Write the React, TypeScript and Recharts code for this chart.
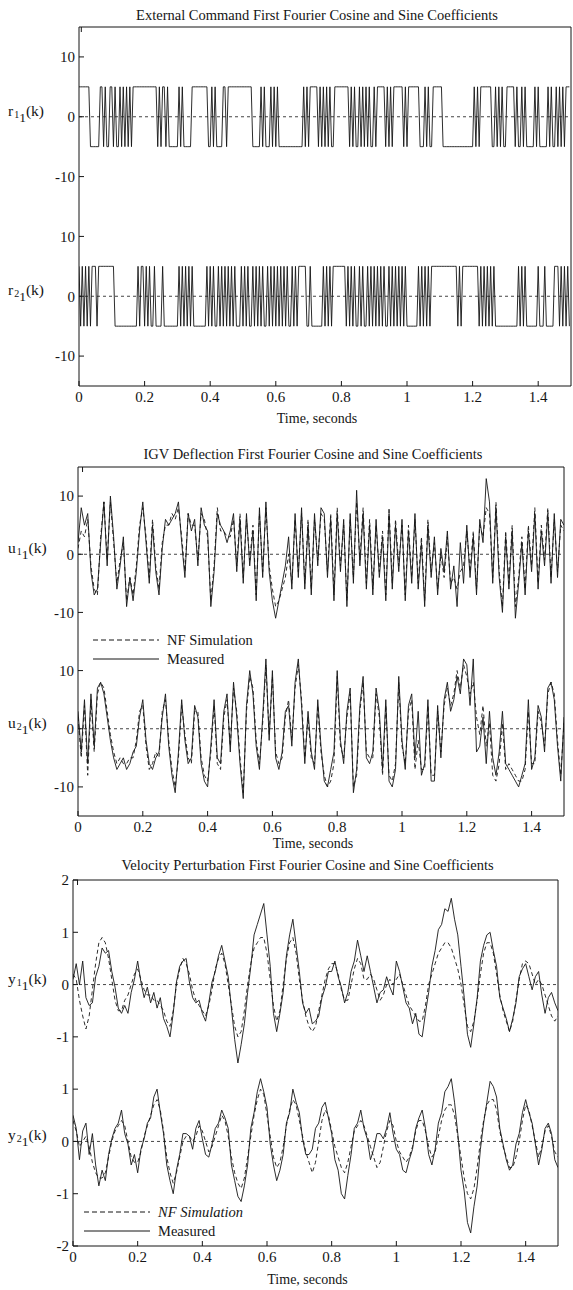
import { LineChart, Line, XAxis, YAxis, ReferenceLine } from 'recharts';

const FONT = "'Liberation Serif', 'Times New Roman', serif";
const INK = '#151515';

const X_TICKS = [0, 0.2, 0.4, 0.6, 0.8, 1, 1.2, 1.4];
const UV_TICKS = [-10, 0, 10, 20, 30, 40];
const Y_TICKS = [-2, -1, 0, 1, 2, 3, 4, 5];

// external command, one char per 0.005 s sample, 10 samples per chunk
const R11 = [
  '+++++++---', '---++-+--+', '+-+--+-+-+', '-+-+++++++', '++++++++-+',
  '-++-+-----', '-+-+-----+', '+++++++++-', '-+-+----++', '-+++++++++',
  '++++++----', '-+-+---+-+', '-+--------', '-------+-+', '-+++++-+-+',
  '-+-+--++++', '+++++-+-+-', '-+-+-+-+--', '+-+++++-+-', '+-++++++-+',
  '-+++++++--', '-+-+--++++', '++--------', '----------', '-+-+-+++++',
  '++--+-+-+-', '-+++++-+--', '+-+-----+-', '+-----+-+-', '-+-+-+-+++',
];
const R21 = [
  '+-+-+-+-++', '+-++++++++', '++--------', '------+-++', '-+-+--+---',
  '-+--------', '-+-+-+-+-+', '--------+-', '+-+--+-+-+', '-+-+-+---+',
  '-+-+--+-+-', '+-+--+-+-+', '-+-+-+-+--', '+-+-+++++-', '-+-------+',
  '-+-+-+++++', '+++-+-+-+-', '-+-+--+-+-', '+-+-+-+--+', '-+-+-+-+-+',
  '-------+-+', '-+-+-+++++', '++++++++++', '+-+-++++++', '++++-+-+-+',
  '-+-+------', '--------+-', '+-+-------', '+---+-----', '+++-+-+-+-',
];

// IGV deflection, one value per 0.01 s
const U11_MEAS = [
  2, 8, 5, 7, -3, -7, -6, 2, 9, -2,
  10, 3, -6, -2, 3, -9, -4, -8, -3, 4,
  9, 2, -5, 5, -3, -7, 1, 6, 5, 6,
  7, 9, 2, -4, 7, 4, 6, -2, 8, 5,
  4, -9, -3, 7, 5, 4, 2, 4, 7, -3,
  6, -5, 7, -2, 4, -8, 8, -4, 9, -3,
  -8, -11, -8, -5, -2, 3, -6, 7, -4, 8,
  -6, 5, -7, 7, -2, 8, 7, -4, 6, -8,
  7, -3, 6, -9, 7, -5, 11, -2, 7, -6,
  5, -7, 6, -4, 3, -8, 7, -6, 5, -3,
  6, -8, 4, -5, 7, -6, 2, -9, 5, -4,
  3, -7, 1, -3, 4, -6, -2, -9, 2, -5,
  5, -4, 3, -7, 6, 2, 13, 9, -5, 8,
  -4, -10, 3, -6, 4, -11, -5, 2, -7, 4,
  -3, 7, -6, 4, -2, 7, -5, 7, -4, 6,
  5,
];
const U11_SIM = [
  1, 4, 3, 6, -2, -6, -7, 3, 9, -1,
  9, 2, -5, -1, 2, -8, -4, -7, -2, 5,
  8, 3, -4, 6, -2, -6, 2, 5, 5, 7,
  6, 8, 3, -3, 7, 5, 5, -1, 7, 6,
  3, -8, -2, 8, 4, 4, 3, 3, 6, -2,
  7, -4, 6, -1, 5, -7, 7, -3, 8, -2,
  -6, -9, -8, -6, -4, 0, -5, 6, -3, 7,
  -5, 6, -6, 6, -1, 7, 6, -3, 7, -7,
  8, -2, 5, -8, 6, -4, 9, -1, 8, -5,
  6, -6, 5, -3, 4, -7, 8, -5, 6, -2,
  5, -7, 5, -4, 6, -5, 3, -8, 6, -3,
  2, -6, 0, -4, 3, -5, -4, -6, -3, -2,
  4, -3, 4, -6, 5, 3, 8, 7, -4, 9,
  -3, -9, 4, -5, 5, -9, -4, 3, -6, 5,
  -2, 8, -5, 5, -1, 8, -4, 6, -3, 5,
  4,
];
const U21_MEAS = [
  3, -4, 5, -6, 6, -3, 7, 8, 6, 2,
  -2, -5, -7, -6, -5, -7, -6, -4, -3, 2,
  5, -2, -6, -7, -5, -4, 2, 6, -3, -8,
  -11, -4, 5, -2, -6, -5, 4, 2, -6, -9,
  -10, -3, 5, -5, -6, 3, 6, -4, 8, 2,
  -6, -12, 4, 10, 6, -3, -7, 2, 12, -2,
  10, -5, -7, -4, 3, 4, -3, 8, 12, 4,
  -6, 3, -4, -7, 5, -3, -9, -10, -7, -4,
  10, -2, -6, 3, 7, -11, -7, 4, 9, -5,
  -6, -4, 7, 3, -7, 5, -9, -10, -7, 9,
  -2, -7, 4, 6, -5, 3, -8, -6, 5, -9,
  -9, 4, -5, 5, 8, 3, 5, 9, 6, 12,
  11, 4, 12, -4, -3, 2, -6, 3, -5, -8,
  -4, 3, -6, -7, -8, -9, -10, -8, -6, 5,
  -7, -5, 4, 2, -4, 7, 8, 5, -3, -9,
  2,
];
const U21_SIM = [
  2, -5, 4, -8, 5, -4, 6, 8, 7, 3,
  -1, -4, -6, -5, -6, -6, -5, -5, -2, 3,
  4, -3, -7, -6, -4, -5, 3, 5, -2, -7,
  -10, -5, 4, -1, -5, -6, 3, 3, -5, -8,
  -9, -4, 4, -6, -7, 2, 5, -3, 7, 3,
  -5, -11, 3, 9, 7, -2, -6, 1, 11, -1,
  9, -4, -6, -5, 2, 5, -2, 7, 11, 5,
  -5, 2, -5, -6, 4, -4, -8, -10, -9, -6,
  9, -3, -5, 2, 6, -10, -8, 3, 8, -4,
  -5, -5, 6, 2, -8, 4, -8, -9, -6, 8,
  -3, -6, 3, 5, -7, -2, -7, -7, 4, -8,
  -8, 3, -4, 4, 7, 4, 6, 10, 7, 11,
  9, 6, 8, 2, -1, 4, -3, 1, -8, -9,
  -6, 1, -7, -6, -7, -8, -9, -9, -7, 3,
  -6, -6, 3, 1, -3, 6, 8, 6, -2, -8,
  1,
];

// velocity perturbation, one value per 0.01 s
const Y11_MEAS = [
  0.1, 0.4, 0.0, 0.45, -0.25, -0.4, -0.35, 0.15, 0.35, 0.7,
  0.6, 0.65, 0.25, -0.05, -0.45, -0.55, -0.4, -0.55, -0.15, 0.1,
  0.45, 0.05, -0.25, -0.05, -0.35, -0.15, -0.45, -0.25, -0.65, -0.8,
  -1.0, -0.55, 0.05, 0.35, 0.45, 0.5, 0.05, -0.25, -0.35, -0.3,
  -0.55, -0.7, -0.35, 0.05, 0.25, 0.55, 0.75, 0.45, 0.15, -0.45,
  -1.05, -1.5, -1.15, -0.75, -0.15, 0.35, 0.95, 1.15, 1.35, 1.55,
  0.95, 0.35, -0.55, -0.9, -0.55, -0.15, 0.55, 0.95, 1.25, 0.75,
  0.25, -0.35, -0.55, -0.45, -0.75, -0.7, -0.6, -0.25, -0.05, 0.25,
  0.25, 0.45, 0.15, -0.05, -0.35, -0.15, 0.25, 0.45, 0.85, 0.55,
  0.25, 0.55, 0.25, -0.05, -0.35, -0.15, -0.1, 0.15, -0.05, -0.2,
  0.45, 0.25, -0.05, -0.35, -0.45, -0.75, -0.55, -0.95, -1.0, -0.55,
  -0.15, 0.35, 0.65, 1.05, 1.15, 1.45, 1.4, 1.65, 1.25, 0.95,
  0.35, -0.25, -0.95, -1.2, -0.75, -0.25, 0.45, 0.75, 0.95, 1.0,
  0.65, 0.35, -0.25, -0.45, -0.65, -0.9, -0.65, -0.35, 0.15, 0.3,
  0.4, 0.15, -0.1, 0.15, 0.25, -0.2, -0.55, -0.25, -0.15, -0.35,
  -0.5,
];
const Y11_SIM = [
  0.2, 0.1, -0.3, -0.6, -0.85, -0.6, -0.1, 0.4, 0.8, 0.9,
  0.8, 0.5, 0.1, -0.3, -0.5, -0.5, -0.3, -0.2, 0.0, 0.2,
  0.3, 0.1, -0.1, -0.2, -0.2, -0.3, -0.3, -0.4, -0.5, -0.7,
  -0.8, -0.5, 0.0, 0.3, 0.5, 0.4, 0.2, -0.1, -0.3, -0.4,
  -0.5, -0.6, -0.4, -0.1, 0.3, 0.5, 0.6, 0.4, 0.0, -0.4,
  -0.8, -1.0, -0.9, -0.5, 0.0, 0.4, 0.7, 0.8, 0.9, 0.9,
  0.6, 0.1, -0.4, -0.7, -0.5, 0.0, 0.5, 0.8, 0.9, 0.6,
  0.1, -0.3, -0.6, -0.8, -0.9, -0.8, -0.5, -0.2, 0.1, 0.3,
  0.4, 0.4, 0.2, -0.1, -0.3, -0.3, 0.0, 0.3, 0.5, 0.4,
  0.1, 0.1, 0.2, 0.1, -0.1, -0.3, -0.2, 0.0, 0.1, 0.0,
  0.1, 0.2, 0.0, -0.2, -0.4, -0.5, -0.6, -0.7, -0.7, -0.4,
  0.0, 0.2, 0.4, 0.6, 0.7, 0.8, 0.8, 0.7, 0.5, 0.3,
  0.0, -0.4, -0.8, -0.9, -0.7, -0.3, 0.2, 0.6, 0.8, 0.8,
  0.6, 0.2, -0.2, -0.5, -0.7, -0.9, -0.7, -0.3, 0.1, 0.4,
  0.45, 0.4, 0.2, 0.0, 0.1, 0.0, -0.2, -0.4, -0.6, -0.7,
  -0.6,
];
const Y21_MEAS = [
  0.5, 0.25, -0.35, 0.2, 0.35, -0.25, 0.15, -0.45, -0.85, -0.55,
  -0.75, -0.25, 0.05, 0.25, 0.35, 0.6, 0.15, -0.05, -0.45, -0.25,
  -0.6, -0.15, 0.05, 0.35, 0.45, 0.85, 1.0, 0.55, 0.15, -0.45,
  -0.75, -1.0, -0.55, -0.25, 0.15, 0.15, 0.1, -0.15, 0.25, 0.4,
  0.05, -0.25, -0.3, -0.05, 0.25, 0.35, 0.6, 0.45, 0.25, -0.45,
  -0.75, -1.05, -1.15, -0.85, -0.45, 0.25, 0.55, 0.95, 1.2, 0.95,
  0.65, -0.05, -0.45, -0.75, -0.55, -0.25, 0.35, 0.55, 1.0, 0.75,
  0.55, 0.05, -0.25, -0.25, -0.15, 0.25, 0.35, 0.65, 0.75, 0.45,
  0.15, -0.35, -0.55, -1.0, -1.1, -0.65, -0.25, 0.25, 0.35, 0.6,
  0.25, 0.05, -0.35, -0.15, 0.15, 0.15, 0.05, 0.25, 0.55, 0.15,
  -0.15, -0.25, -0.55, -0.6, -0.35, -0.15, 0.25, 0.45, 0.6, 0.25,
  -0.25, -0.45, -0.15, 0.35, 0.55, 0.95, 1.05, 1.2, 0.75, 0.15,
  -0.55, -0.95, -1.55, -1.75, -1.25, -0.85, -0.15, 0.35, 0.75, 1.15,
  1.05, 0.85, 0.25, -0.05, -0.35, -0.55, -0.45, -0.05, 0.15, 0.55,
  0.8, 0.55, 0.35, -0.05, -0.45, -0.15, 0.25, 0.35, 0.15, -0.35,
  -0.5,
];
const Y21_SIM = [
  0.4, 0.2, -0.1, 0.0, 0.1, -0.1, -0.4, -0.6, -0.7, -0.7,
  -0.6, -0.3, 0.0, 0.2, 0.3, 0.4, 0.3, 0.0, -0.3, -0.4,
  -0.4, -0.2, 0.1, 0.3, 0.5, 0.7, 0.8, 0.6, 0.2, -0.3,
  -0.6, -0.8, -0.6, -0.3, 0.0, 0.1, 0.1, 0.0, 0.1, 0.3,
  0.2, 0.0, -0.2, -0.1, 0.1, 0.3, 0.5, 0.4, 0.1, -0.3,
  -0.6, -0.8, -0.9, -0.7, -0.3, 0.1, 0.5, 0.8, 1.0, 0.9,
  0.5, 0.1, -0.3, -0.5, -0.4, -0.1, 0.3, 0.6, 0.8, 0.7,
  0.4, 0.1, -0.2, -0.4, -0.6, -0.4, 0.0, 0.4, 0.6, 0.5,
  0.2, -0.1, -0.3, -0.5, -0.6, -0.4, -0.1, 0.2, 0.3, 0.4,
  0.3, 0.1, -0.1, -0.3, -0.5, -0.4, -0.1, 0.2, 0.4, 0.3,
  0.0, -0.2, -0.3, -0.4, -0.3, -0.1, 0.2, 0.4, 0.4, 0.2,
  -0.1, -0.3, -0.2, 0.1, 0.4, 0.6, 0.7, 0.7, 0.5, 0.1,
  -0.3, -0.7, -1.0, -1.1, -0.9, -0.5, 0.0, 0.4, 0.7, 0.8,
  0.8, 0.6, 0.2, -0.1, -0.3, -0.5, -0.5, -0.3, 0.0, 0.4,
  0.7, 0.6, 0.3, 0.0, -0.3, -0.1, 0.2, 0.3, 0.1, -0.2,
  -0.3,
];

const levels = (chunks: string[]) =>
  chunks.join('').split('').map((c) => (c === '+' ? 5 : -5));

const r11 = levels(R11);
const r21 = levels(R21);
const commandRows = r11.map((v, i) => ({ t: i * 0.005, a: v + 30, b: r21[i] }));

const igvRows = U11_MEAS.map((v, i) => ({
  t: i * 0.01,
  a: v + 30,
  as: U11_SIM[i] + 30,
  b: U21_MEAS[i],
  bs: U21_SIM[i],
}));

const velRows = Y11_MEAS.map((v, i) => ({
  t: i * 0.01,
  a: v + 3,
  as: Y11_SIM[i] + 3,
  b: Y21_MEAS[i],
  bs: Y21_SIM[i],
}));

const fmtX = (v: number) => String(+v.toFixed(1));
const tickStyle = { fill: INK, fontSize: 15, fontFamily: FONT };

type Series = { key: string; dashed?: boolean };

interface PanelProps {
  title: string;
  titleY: number;
  timeY: number;
  plotLeft: number;
  plotRight: number;
  plotTop: number;
  plotBottom: number;
  data: Record<string, number>[];
  series: Series[];
  yDomain: [number, number];
  yTicks: number[];
  offset: number;
  letter: string;
  legend?: { x: number; y: number; italic?: boolean };
}

function AxisName({ letter, idx, x, y }: { letter: string; idx: string; x: number; y: number }) {
  return (
    <div
      style={{
        position: 'absolute',
        left: x,
        top: y - 15,
        fontFamily: FONT,
        fontSize: 15.5,
        lineHeight: '18px',
        color: INK,
        whiteSpace: 'nowrap',
      }}
    >
      {letter}
      <span style={{ fontSize: 10, position: 'relative', top: 2, marginLeft: 1 }}>{idx}</span>
      <span style={{ fontSize: 13.5, position: 'relative', top: 6 }}>1</span>
      (k)
    </div>
  );
}

function Legend({ x, y, italic }: { x: number; y: number; italic?: boolean }) {
  const rows = [
    { label: 'NF Simulation', dashed: true },
    { label: 'Measured', dashed: false },
  ];
  return (
    <>
      {rows.map((r, i) => (
        <div
          key={r.label}
          style={{
            position: 'absolute',
            left: x,
            top: y + i * 19 - 9,
            height: 18,
            display: 'flex',
            alignItems: 'center',
            fontFamily: FONT,
            fontSize: 14.5,
            fontStyle: italic && i === 0 ? 'italic' : 'normal',
            color: INK,
            whiteSpace: 'nowrap',
          }}
        >
          <svg width={66} height={18} style={{ marginRight: 8 }}>
            <line
              x1={0}
              x2={66}
              y1={9}
              y2={9}
              stroke={INK}
              strokeWidth={1}
              strokeDasharray={r.dashed ? '5 3' : undefined}
            />
          </svg>
          {r.label}
        </div>
      ))}
    </>
  );
}

function Panel(p: PanelProps) {
  const boxTop = p.plotTop - 20;
  const chartH = p.plotBottom - boxTop + 30;
  const [lo, hi] = p.yDomain;
  const yPix = (v: number) => p.plotTop + ((hi - v) / (hi - lo)) * (p.plotBottom - p.plotTop);
  const fmtY = (v: number) => String(v > p.offset / 2 ? v - p.offset : v);
  const mid = (p.plotLeft + p.plotRight) / 2 - 8;

  return (
    <>
      <div
        style={{
          position: 'absolute',
          left: 0,
          width: 573,
          top: p.titleY - 9,
          textAlign: 'center',
          fontFamily: FONT,
          fontSize: 14.5,
          lineHeight: '18px',
          color: INK,
          whiteSpace: 'nowrap',
        }}
      >
        <span style={{ position: 'relative', left: mid - 286.5 }}>{p.title}</span>
      </div>

      <div style={{ position: 'absolute', left: 0, top: boxTop, width: 573, height: chartH }}>
        <LineChart
          width={573}
          height={chartH}
          data={p.data}
          margin={{ top: 19, right: 573 - p.plotRight - 1, bottom: 0, left: 0 }}
        >
          <XAxis
            dataKey="t"
            type="number"
            domain={[0, 1.5]}
            ticks={X_TICKS}
            height={30}
            tickSize={-5}
            tickMargin={10}
            tickFormatter={fmtX}
            tick={tickStyle}
            stroke={INK}
            allowDataOverflow
          />
          <XAxis
            xAxisId="top"
            orientation="top"
            type="number"
            domain={[0, 1.5]}
            ticks={X_TICKS}
            height={1}
            tickSize={-5}
            tickFormatter={() => ''}
            stroke={INK}
          />
          <YAxis
            type="number"
            domain={p.yDomain}
            ticks={p.yTicks}
            width={p.plotLeft}
            tickSize={-5}
            tickMargin={9}
            tickFormatter={fmtY}
            tick={tickStyle}
            stroke={INK}
            allowDataOverflow
          />
          <YAxis
            yAxisId="right"
            orientation="right"
            type="number"
            domain={p.yDomain}
            ticks={p.yTicks}
            width={1}
            tickSize={-5}
            tickFormatter={() => ''}
            stroke={INK}
          />
          <ReferenceLine y={0} stroke={INK} strokeDasharray="3 3" strokeWidth={0.8} />
          <ReferenceLine y={p.offset} stroke={INK} strokeDasharray="3 3" strokeWidth={0.8} />
          {p.series.map((s) => (
            <Line
              key={s.key}
              dataKey={s.key}
              type="linear"
              dot={false}
              stroke={INK}
              strokeWidth={0.9}
              strokeDasharray={s.dashed ? '4 3' : undefined}
              isAnimationActive={false}
            />
          ))}
        </LineChart>
      </div>

      <AxisName letter={p.letter} idx="1" x={8} y={yPix(p.offset)} />
      <AxisName letter={p.letter} idx="2" x={8} y={yPix(0)} />

      {p.legend && <Legend x={p.legend.x} y={p.legend.y} italic={p.legend.italic} />}

      <div
        style={{
          position: 'absolute',
          left: 0,
          width: 573,
          top: p.timeY - 9,
          textAlign: 'center',
          fontFamily: FONT,
          fontSize: 14,
          lineHeight: '18px',
          color: INK,
        }}
      >
        <span style={{ position: 'relative', left: mid - 286.5 }}>Time, seconds</span>
      </div>
    </>
  );
}

export default function App() {
  return (
    <div style={{ position: 'relative', width: 573, height: 1290, background: '#fff', overflow: 'hidden' }}>
      <style>{'body{margin:0}'}</style>
      <Panel
        title="External Command First Fourier Cosine and Sine Coefficients"
        titleY={15}
        timeY={419}
        plotLeft={79}
        plotRight={571}
        plotTop={27}
        plotBottom={386}
        data={commandRows}
        series={[{ key: 'a' }, { key: 'b' }]}
        yDomain={[-15, 45]}
        yTicks={UV_TICKS}
        offset={30}
        letter="r"
      />
      <Panel
        title="IGV Deflection  First Fourier Cosine and Sine Coefficients"
        titleY={454}
        timeY={844}
        plotLeft={78}
        plotRight={564}
        plotTop={467}
        plotBottom={816}
        data={igvRows}
        series={[{ key: 'as', dashed: true }, { key: 'a' }, { key: 'bs', dashed: true }, { key: 'b' }]}
        yDomain={[-15, 45]}
        yTicks={UV_TICKS}
        offset={30}
        letter="u"
        legend={{ x: 93, y: 640 }}
      />
      <Panel
        title="Velocity Perturbation First Fourier Cosine and Sine Coefficients"
        titleY={865}
        timeY={1280}
        plotLeft={73}
        plotRight={558}
        plotTop={880}
        plotBottom={1246}
        data={velRows}
        series={[{ key: 'as', dashed: true }, { key: 'a' }, { key: 'bs', dashed: true }, { key: 'b' }]}
        yDomain={[-2, 5]}
        yTicks={Y_TICKS}
        offset={3}
        letter="y"
        legend={{ x: 84, y: 1212, italic: true }}
      />
    </div>
  );
}
